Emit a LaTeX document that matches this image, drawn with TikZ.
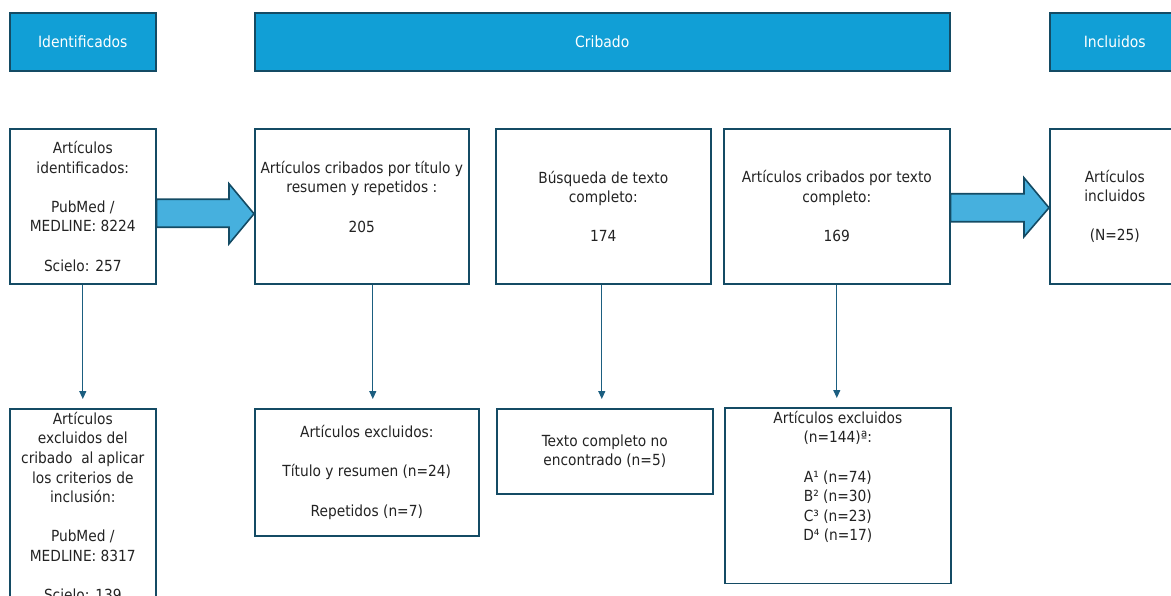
\documentclass[tikz,border=0pt]{standalone}
\usepackage{fontspec}
\setmainfont{DejaVu Sans Condensed}
\usetikzlibrary{positioning,calc,arrows.meta}
\definecolor{H}{RGB}{17,159,214}
\definecolor{E}{RGB}{20,75,100}
\definecolor{K}{RGB}{27,94,128}
\definecolor{F}{RGB}{70,176,222}
\definecolor{T}{RGB}{35,35,35}
\tikzstyle{head} = [rectangle, anchor=north west, draw=E, line width=1.6pt, fill=H,
text=white, font=\fontsize{15.5}{19.6}\selectfont]
\tikzstyle{box} = [rectangle, anchor=north west, draw=E, line width=1.6pt, fill=white,
text=T, align=center, font=\fontsize{15.3}{19.6}\selectfont]
\tikzstyle{link} = [-{Triangle[length=8pt,width=7pt]}, K, line width=1.2pt, shorten >=9pt]
\tikzstyle{bigarrow} = [draw=E, line width=1.6pt, fill=F, line join=miter]

\begin{document}
\begin{tikzpicture}[x=1pt, y=-1pt]
    \useasboundingbox (0,0) rectangle (1171,596);

    % headers
    \node[head, minimum width=146pt, minimum height=58pt] (hid)  at (9,12)    {Identificados};
    \node[head, minimum width=695pt, minimum height=58pt] (hcr)  at (254,12)  {Cribado};
    \node[head, minimum width=130pt, minimum height=58pt] (hinc) at (1049,12) {Incluidos};

    % first row
    \node[box, minimum width=146pt, minimum height=155pt] (ident) at (9,128)
        {Artículos\\identificados:\\ \\PubMed /\\MEDLINE: 8224\\ \\Scielo: 257};
    \node[box, minimum width=214pt, minimum height=155pt] (crib) at (254,128)
        {Artículos cribados por título y\\resumen y repetidos :\\ \\205\\ \mbox{}};
    \node[box, minimum width=215pt, minimum height=155pt] (busq) at (495,128)
        {Búsqueda de texto\\completo:\\ \\174};
    \node[box, minimum width=226pt, minimum height=155pt] (full) at (723,128)
        {Artículos cribados por texto\\completo:\\ \\169};
    \node[box, minimum width=130pt, minimum height=155pt] (incl) at (1049,128)
        {Artículos\\incluidos\\ \\(N=25)};

    % second row
    \node[box, minimum width=146pt, minimum height=212pt] (identexc) at (9,408)
        {Artículos\\excluidos del\\cribado \ al aplicar\\los criterios de\\inclusión:\\ \\PubMed /\\MEDLINE: 8317\\ \\Scielo: 139\\ \mbox{}};
    \node[box, minimum width=224pt, minimum height=127pt] (cribexc) at (254,408)
        {Artículos excluidos:\\ \\Título y resumen (n=24)\\ \\Repetidos (n=7)};
    \node[box, minimum width=216pt, minimum height=85pt] (busqexc) at (496,408)
        {Texto completo no\\encontrado (n=5)};
    \node[box, minimum width=226pt, minimum height=173pt] (fullexc) at (724,407)
        {Artículos excluidos\\(n=144)ª:\\ \\A¹ (n=74)\\B² (n=30)\\C³ (n=23)\\D⁴ (n=17)\\ \mbox{}\\ \mbox{}};

    % downward links
    \draw[link] (ident.south) -- (ident.south |- identexc.north);
    \draw[link] ([xshift=11pt]crib.south) -- ([xshift=11pt]crib.south |- cribexc.north);
    \draw[link] ([xshift=-1.5pt]busq.south) -- ([xshift=-1.5pt]busq.south |- busqexc.north);
    \draw[link] (full.south) -- (full.south |- fullexc.north);

    % block arrows
    \draw[bigarrow] ($(ident.east)+(0,-7)$) -- ($(crib.west)+(-25,-7)$) -- ($(crib.west)+(-25,-22.5)$)
        -- ($(crib.west)+(0,7.5)$) -- ($(crib.west)+(-25,37.5)$) -- ($(crib.west)+(-25,21)$)
        -- ($(ident.east)+(0,21)$) -- cycle;
    \draw[bigarrow] ($(full.east)+(0,-12.5)$) -- ($(incl.west)+(-25,-12.5)$) -- ($(incl.west)+(-25,-28.5)$)
        -- ($(incl.west)+(0,1.5)$) -- ($(incl.west)+(-25,30.5)$) -- ($(incl.west)+(-25,15.5)$)
        -- ($(full.east)+(0,15.5)$) -- cycle;
\end{tikzpicture}
\end{document}
